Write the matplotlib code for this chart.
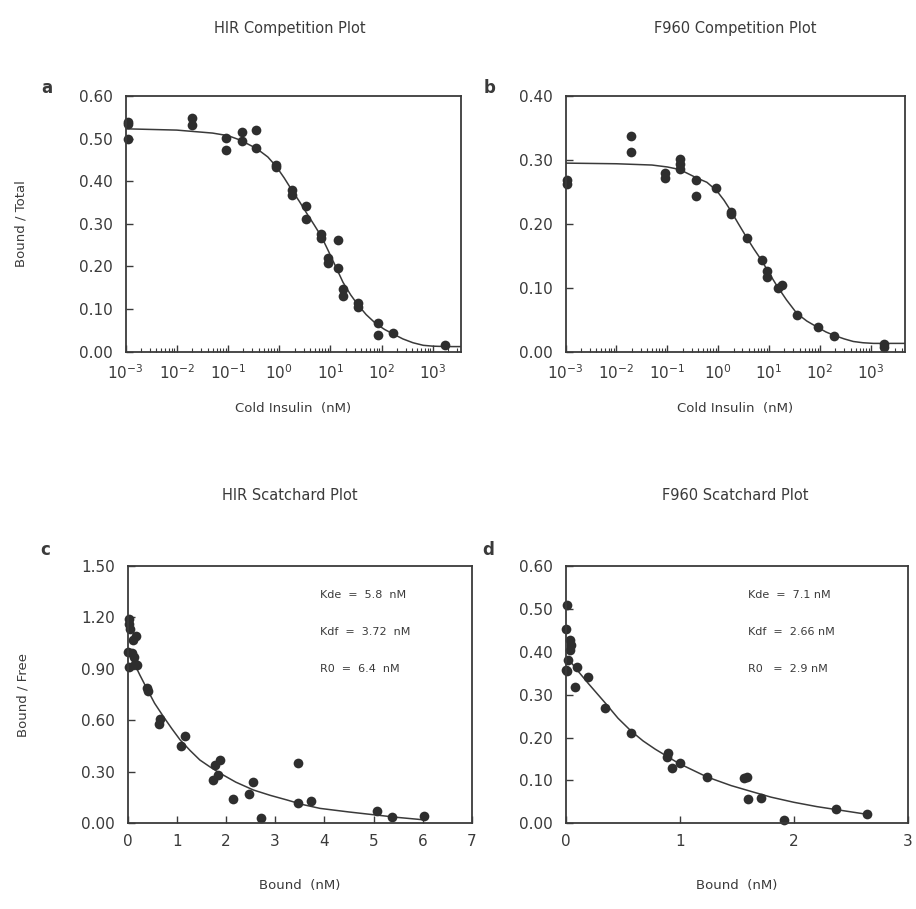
import matplotlib
matplotlib.use("Agg")
import matplotlib.pyplot as plt
from matplotlib.ticker import LogLocator, NullFormatter, FixedLocator

plt.rcParams['font.family'] = ['DejaVu Sans']
plt.rcParams['mathtext.default'] = 'regular'

INK = '#3a3a3a'
DOT = '#2e2e2e'

# --- a: HIR competition (x = cold insulin nM, y = bound/total)
a_x = [0.00113, 0.00113, 0.00113, 0.02, 0.02, 0.091, 0.091, 0.184, 0.184,
       0.36, 0.36, 0.885, 0.885, 1.82, 1.82, 3.4, 3.4, 6.7, 6.7, 9.0, 9.0,
       14.1, 14.1, 17.6, 17.6, 34.5, 34.5, 85, 85, 166, 1690]
a_y = [0.540, 0.535, 0.500, 0.548, 0.533, 0.502, 0.473, 0.515, 0.495,
       0.520, 0.479, 0.438, 0.433, 0.380, 0.367, 0.341, 0.311, 0.277, 0.266,
       0.219, 0.208, 0.262, 0.196, 0.148, 0.130, 0.115, 0.105, 0.067, 0.039,
       0.044, 0.015]
fit_a_x = [0.001, 0.01, 0.05, 0.1, 0.17, 0.36, 0.6, 0.885, 1.25, 1.75, 2.5,
           3.4, 4.8, 6.7, 9.0, 12, 17.6, 25, 34.5, 50, 77, 115, 166, 260,
           410, 650, 1000, 1800, 3500]
fit_a_y = [0.523, 0.520, 0.513, 0.507, 0.497, 0.477, 0.457, 0.434, 0.408,
           0.380, 0.352, 0.326, 0.298, 0.270, 0.238, 0.206, 0.163, 0.133,
           0.110, 0.087, 0.066, 0.052, 0.042, 0.030, 0.021, 0.015, 0.013,
           0.012, 0.012]

# --- b: F960 competition
b_x = [0.00107, 0.00107, 0.0196, 0.0196, 0.091, 0.091, 0.175, 0.175, 0.175,
       0.374, 0.374, 0.90, 1.82, 1.82, 3.6, 7.1, 8.9, 8.9, 15, 18, 36, 90,
       189, 1820, 1820]
b_y = [0.268, 0.262, 0.338, 0.312, 0.280, 0.272, 0.301, 0.293, 0.286,
       0.269, 0.243, 0.256, 0.218, 0.215, 0.178, 0.143, 0.127, 0.117, 0.100,
       0.104, 0.057, 0.038, 0.025, 0.0115, 0.008]
fit_b_x = [0.001, 0.01, 0.05, 0.1, 0.175, 0.374, 0.6, 0.93, 1.3, 1.75, 2.5,
           3.6, 5.0, 7.1, 10, 14, 22, 35, 55, 86, 130, 182, 300, 450, 700,
           1120, 2000, 4700]
fit_b_y = [0.295, 0.294, 0.292, 0.289, 0.285, 0.272, 0.265, 0.252, 0.237,
           0.221, 0.200, 0.179, 0.161, 0.143, 0.123, 0.104, 0.081, 0.060,
           0.048, 0.039, 0.031, 0.026, 0.020, 0.016, 0.014, 0.013, 0.013,
           0.013]

# --- c: HIR Scatchard (x = bound nM, y = bound/free)
c_x = [0.03, 0.04, 0.05, 0.18, 0.12, 0.02, 0.10, 0.13, 0.04, 0.16, 0.20,
       0.39, 0.41, 0.66, 0.63, 1.17, 1.09, 1.87, 1.78, 1.83, 1.74, 2.14,
       2.46, 2.56, 2.71, 3.47, 3.47, 3.72, 5.06, 5.37, 6.03]
c_y = [1.19, 1.16, 1.13, 1.09, 1.07, 1.00, 0.99, 0.97, 0.91, 0.93, 0.92,
       0.79, 0.77, 0.61, 0.58, 0.51, 0.45, 0.37, 0.34, 0.28, 0.25, 0.14,
       0.17, 0.24, 0.03, 0.35, 0.12, 0.13, 0.07, 0.035, 0.043]
fit_c_x = [0.0, 0.12, 0.25, 0.39, 0.55, 0.73, 0.9, 1.07, 1.27, 1.47, 1.68,
           1.88, 2.2, 2.56, 2.9, 3.24, 3.55, 3.91, 4.5, 5.06, 5.5, 6.03]
fit_c_y = [1.01, 0.942, 0.865, 0.787, 0.700, 0.622, 0.552, 0.486, 0.425,
           0.369, 0.328, 0.292, 0.240, 0.194, 0.163, 0.136, 0.110, 0.087,
           0.066, 0.048, 0.034, 0.020]

# --- d: F960 Scatchard
d_x = [0.01, 0.0, 0.04, 0.05, 0.04, 0.025, 0.01, 0.0, 0.10, 0.083, 0.2,
       0.35, 0.575, 0.90, 0.89, 0.93, 1.0, 1.24, 1.56, 1.59, 1.6, 1.71,
       1.91, 2.37, 2.64]
d_y = [0.509, 0.452, 0.427, 0.416, 0.404, 0.381, 0.354, 0.357, 0.364,
       0.319, 0.340, 0.268, 0.211, 0.163, 0.155, 0.128, 0.140, 0.107, 0.105,
       0.109, 0.056, 0.060, 0.008, 0.033, 0.022]
fit_d_x = [0.02, 0.1, 0.2, 0.35, 0.46, 0.575, 0.68, 0.785, 0.99, 1.24, 1.45,
           1.63, 1.8, 2.0, 2.2, 2.37, 2.64]
fit_d_y = [0.385, 0.358, 0.326, 0.280, 0.245, 0.215, 0.192, 0.173, 0.140,
           0.108, 0.088, 0.074, 0.061, 0.049, 0.039, 0.032, 0.021]

notes_c = ["Kde  =  5.8  nM", "Kdf  =  3.72  nM", "R0  =  6.4  nM"]
notes_d = ["Kde  =  7.1 nM", "Kdf  =  2.66 nM", "R0   =  2.9 nM"]

W, H = 916, 909
fig = plt.figure(figsize=(W / 100, H / 100), dpi=100)


def px_axes(l, t, r, b):
    return fig.add_axes([l / W, 1 - b / H, (r - l) / W, (b - t) / H])


def style(ax):
    for s in ax.spines.values():
        s.set_color(INK)
        s.set_linewidth(1.3)
    ax.tick_params(which='both', direction='in', colors=INK,
                   labelcolor=INK, labelsize=11, top=False, right=False)
    ax.tick_params(which='major', length=5, width=1)
    ax.tick_params(which='minor', length=3, width=0.8)
    ax.tick_params(axis='y', pad=9)
    ax.tick_params(axis='x', pad=8)


ax_a = px_axes(125.5, 96, 461, 351.7)
ax_b = px_axes(565.5, 96, 905, 351.7)
ax_c = px_axes(127.5, 566, 472, 823.3)
ax_d = px_axes(565.5, 566, 908, 823.3)

for ax, xs, ys, fx, fy, ymax, xmax in [
        (ax_a, a_x, a_y, fit_a_x, fit_a_y, 0.6, 10 ** 3.55),
        (ax_b, b_x, b_y, fit_b_x, fit_b_y, 0.4, 10 ** 3.67)]:
    ax.plot(fx, fy, color=INK, lw=1.1)
    ax.plot(xs, ys, 'o', color=DOT, ms=7, mew=0, clip_on=False)
    ax.set_xscale('log')
    ax.set_xlim(1e-3, xmax)
    ax.set_ylim(0, ymax)
    ax.set_yticks([round(v * 0.1, 2) for v in range(int(round(ymax * 10)) + 1)])
    ax.set_yticklabels(['%.2f' % (v * 0.1) for v in range(int(round(ymax * 10)) + 1)])
    ax.xaxis.set_major_locator(FixedLocator([10.0 ** k for k in range(-3, 4)]))
    ax.set_xticklabels(['$10^{%d}$' % k for k in range(-3, 4)])
    ax.xaxis.set_minor_locator(LogLocator(base=10, subs=range(2, 10), numticks=20))
    ax.xaxis.set_minor_formatter(NullFormatter())
    ax.set_xlabel('Cold Insulin  (nM)', fontsize=9.5, color=INK, labelpad=15)
    style(ax)

ax_a.set_ylabel('Bound / Total', fontsize=9.5, color=INK, labelpad=37)

for ax, xs, ys, fx, fy, ymax, ystep, xmax, notes, nx in [
        (ax_c, c_x, c_y, fit_c_x, fit_c_y, 1.5, 0.3, 7, notes_c, 320),
        (ax_d, d_x, d_y, fit_d_x, fit_d_y, 0.6, 0.1, 3, notes_d, 748)]:
    ax.plot(fx, fy, color=INK, lw=1.1)
    ax.plot(xs, ys, 'o', color=DOT, ms=7, mew=0, clip_on=False)
    ax.set_xlim(0, xmax)
    ax.set_ylim(0, ymax)
    n = int(round(ymax / ystep))
    ax.set_yticks([round(i * ystep, 2) for i in range(n + 1)])
    ax.set_yticklabels(['%.2f' % (i * ystep) for i in range(n + 1)])
    ax.set_xticks(range(0, xmax + 1))
    ax.set_xlabel('Bound  (nM)', fontsize=9.5, color=INK, labelpad=21)
    style(ax)
    for i, t in enumerate(notes):
        fig.text(nx / W, 1 - (595 + 37 * i) / H, t, fontsize=8, color=INK,
                 va='center', ha='left')

ax_c.set_ylabel('Bound / Free', fontsize=9.5, color=INK, labelpad=37)

for x, y, t in [(290, 28, 'HIR Competition Plot'),
                (735, 28, 'F960 Competition Plot'),
                (290, 495, 'HIR Scatchard Plot'),
                (735, 495, 'F960 Scatchard Plot')]:
    fig.text(x / W, 1 - y / H, t, fontsize=10.5, color=INK,
             ha='center', va='center')

for x, y, t in [(47, 88, 'a'), (490, 88, 'b'), (45, 550, 'c'), (488, 550, 'd')]:
    fig.text(x / W, 1 - y / H, t, fontsize=12, fontweight='bold', color=INK,
             ha='center', va='center')

fig.savefig('out.png', dpi=100, facecolor='white')
